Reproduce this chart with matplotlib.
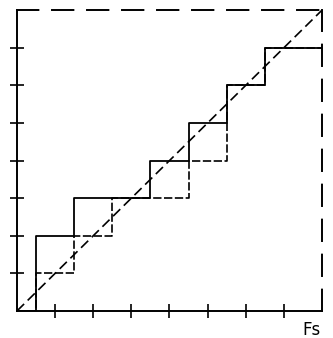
import matplotlib
matplotlib.use("Agg")
import matplotlib.pyplot as plt

# Upper staircase (solid) and lower staircase (dashed), step positions and levels
upper_x = [0, 0.5, 1.5, 3.5, 4.5, 5.5, 6.5, 8]
upper_y = [0, 2, 3, 4, 5, 6, 7, 7]
lower_x = [0, 0.5, 1.5, 2.5, 4.5, 5.5, 6.5, 8]
lower_y = [0, 1, 2, 3, 4, 6, 7, 7]
diag = [0, 8]
ticks = [1, 2, 3, 4, 5, 6, 7]

fig = plt.figure(figsize=(3.33, 3.38), dpi=100)
ax = fig.add_axes([0.051, 0.080, 0.916, 0.890])

ax.step(lower_x, lower_y, where="post", color="black", lw=1.2,
        linestyle=(0, (5, 1.5)))
ax.step(upper_x, upper_y, where="post", color="black", lw=1.3)
ax.plot(diag, diag, color="black", lw=1.2, linestyle=(0, (6, 3)))

ax.set_xlim(0, 8)
ax.set_ylim(0, 8)
ax.set_xticks(ticks)
ax.set_yticks(ticks)
ax.set_xticklabels([])
ax.set_yticklabels([])
ax.tick_params(direction="inout", length=10, width=1.2, color="black")

for side in ("left", "bottom"):
    ax.spines[side].set_linewidth(1.4)
for side in ("top", "right"):
    ax.spines[side].set_linewidth(1.4)
    ax.spines[side].set_linestyle((0, (11, 7)))

fig.text(0.908, 0.010, "Fs", fontsize=12, color="black")

fig.savefig("out.png", dpi=100)
